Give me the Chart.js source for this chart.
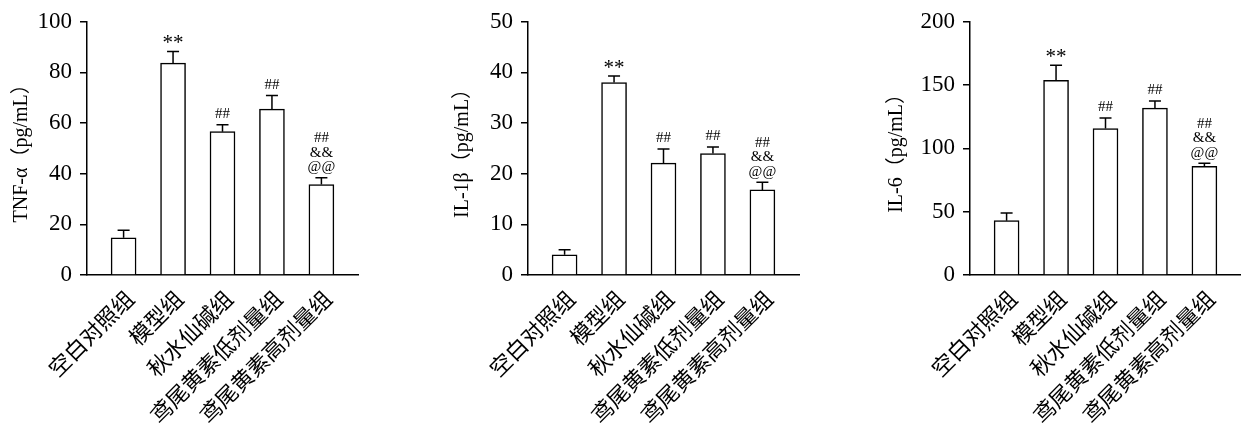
<!DOCTYPE html>
<html>
<head>
<meta charset="utf-8">
<script src="https://cdn.jsdelivr.net/npm/chart.js@4.4.1/dist/chart.umd.min.js"></script>
<style>
  body { margin: 0; background: #fff; }
  #wrap { position: relative; width: 1241px; height: 425px; overflow: hidden; }
  .panel { position: absolute; top: 0; height: 425px; }
</style>
</head>
<body>
<div id="wrap">
  <div class="panel" id="p1" style="left:0px;width:360px"><canvas id="c1" width="360" height="425"></canvas></div>
  <div class="panel" id="p2" style="left:441px;width:360px"><canvas id="c2" width="360" height="425"></canvas></div>
  <div class="panel" id="p3" style="left:875px;width:366px"><canvas id="c3" width="366" height="425"></canvas></div>
</div>
<script>
const groups = ["空白对照组", "模型组", "秋水仙碱组", "鸢尾黄素低剂量组", "鸢尾黄素高剂量组"];

const tnfMean = [14.7, 83.7, 56.6, 65.5, 35.7];
const tnfErr = [3.0, 4.6, 2.7, 5.4, 2.7];

const il1bMean = [4.0, 38.0, 22.1, 24.0, 16.8];
const il1bErr = [1.0, 1.3, 2.8, 1.3, 1.5];

const il6Mean = [42.9, 153.7, 115.7, 131.8, 85.8];
const il6Err = [6.0, 11.9, 8.3, 5.7, 2.4];

// significance marks above each bar (bottom line last)
const sigMarks = [[], ["**"], ["##"], ["##"], ["##", "&&", "@@"]];

const FONT = "'Liberation Serif', 'Noto Sans CJK SC', serif";

const errorBarPlugin = {
  id: "errorBars",
  afterDatasetsDraw(chart, args, opts) {
    const ctx = chart.ctx;
    const yScale = chart.scales.y;
    const meta = chart.getDatasetMeta(0);
    ctx.save();
    ctx.strokeStyle = "#000";
    ctx.lineWidth = 1.5;
    meta.data.forEach((bar, i) => {
      const top = yScale.getPixelForValue(opts.mean[i] + opts.err[i]);
      ctx.beginPath();
      ctx.moveTo(bar.x, bar.y);
      ctx.lineTo(bar.x, top);
      ctx.moveTo(bar.x - 6, top);
      ctx.lineTo(bar.x + 6, top);
      ctx.stroke();

      const lines = sigMarks[i];
      ctx.fillStyle = "#000";
      ctx.textAlign = "center";
      ctx.textBaseline = "bottom";
      let y = top - 3;
      for (let k = lines.length - 1; k >= 0; k--) {
        const txt = lines[k];
        if (txt === "**") {
          ctx.font = "21px " + FONT;
          ctx.fillText(txt, bar.x, y + 6);
        } else {
          ctx.font = "15px " + FONT;
          ctx.fillText(txt, bar.x, y);
        }
        y -= 14.5;
      }
    });
    ctx.restore();
  },
};

function makePanel(id, mean, err, yMax, yStep, yTitle, yWidth, padRight) {
  new Chart(document.getElementById(id), {
    type: "bar",
    data: {
      datasets: [
        {
          data: mean.map((v, i) => ({ x: i + 1, y: v })),
          backgroundColor: "#fff",
          borderColor: "#000",
          borderWidth: 1.5,
          barThickness: 25,
        },
      ],
    },
    plugins: [errorBarPlugin],
    options: {
      responsive: false,
      animation: false,
      layout: { padding: { top: 19, right: padRight, left: 0, bottom: 0 } },
      plugins: {
        legend: { display: false },
        tooltip: { enabled: false },
        errorBars: { mean: mean, err: err },
      },
      scales: {
        x: {
          type: "linear",
          offset: false,
          min: 0.26,
          max: 5.74,
          grid: { display: false },
          border: { display: true, color: "#000", width: 1.5 },
          afterBuildTicks: (scale) => {
            scale.ticks = groups.map((g, i) => ({ value: i + 1 }));
          },
          afterFit: (scale) => {
            scale.height = 150;
          },
          ticks: {
            autoSkip: false,
            maxRotation: 45,
            minRotation: 45,
            padding: 4,
            labelOffset: 8,
            color: "#000",
            font: { family: FONT, size: 22 },
            callback: (v) => groups[Math.round(v) - 1],
          },
        },
        y: {
          min: 0,
          max: yMax,
          grid: {
            drawOnChartArea: false,
            drawTicks: true,
            tickLength: 7,
            color: "#000",
            lineWidth: 1.5,
          },
          border: { display: true, color: "#000", width: 1.5 },
          afterFit: (scale) => {
            scale.width = yWidth;
          },
          ticks: {
            stepSize: yStep,
            padding: 8,
            color: "#000",
            font: { family: FONT, size: 23 },
          },
          title: {
            display: true,
            text: yTitle,
            color: "#000",
            padding: { top: 10, bottom: 0 },
            font: { family: FONT, size: 20 },
          },
        },
      },
    },
  });
}

window.onload = function () {
  makePanel("c1", tnfMean, tnfErr, 100, 20, "TNF-α（pg/mL）", 87, 2);
  makePanel("c2", il1bMean, il1bErr, 50, 10, "IL-1β（pg/mL）", 87, 2);
  makePanel("c3", il6Mean, il6Err, 200, 50, "IL-6（pg/mL）", 95, 0);
};
</script>
</body>
</html>
